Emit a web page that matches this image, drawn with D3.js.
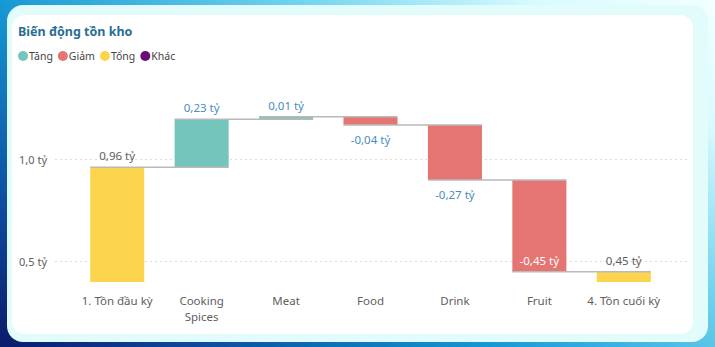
<!DOCTYPE html>
<html><head><meta charset="utf-8">
<script src="https://cdn.jsdelivr.net/npm/d3@7"></script>
<style>
html,body{margin:0;padding:0;width:715px;height:347px;overflow:hidden;}
body{background:linear-gradient(35deg,#0a1a6a 0%,#0e4fa0 18%,#1597d2 40%,#6fd3ee 65%,#d8fbff 85%,#f2ffff 100%);}
svg{display:block;}
text{font-family:"Noto Sans","Open Sans",sans-serif;}
</style></head><body>
<svg id="c" width="715" height="347"></svg>
<script>
const categories = ["1. Tồn đầu kỳ","Cooking Spices","Meat","Food","Drink","Fruit","4. Tồn cuối kỳ"];
const kinds      = ["total","delta","delta","delta","delta","delta","total"];
const values     = [0.963, 0.235, 0.012, -0.04, -0.27, -0.45, 0.45];
const labels     = ["0,96 tỷ","0,23 tỷ","0,01 tỷ","-0,04 tỷ","-0,27 tỷ","-0,45 tỷ","0,45 tỷ"];
const yTicks     = [0.5, 1.0];
const yTickLabels= ["0,5 tỷ","1,0 tỷ"];
const legendNames= ["Tăng","Giảm","Tổng","Khác"];
const legendColors=["#74c6bc","#e57572","#fdd44e","#6a0c78"];

const svg = d3.select("#c");
// panels
svg.append("rect").attr("x",7).attr("y",5).attr("width",701).attr("height",337).attr("rx",16).attr("fill","#e1fcfa");
svg.append("rect").attr("x",12).attr("y",15).attr("width",681).attr("height",319).attr("rx",13).attr("fill","#ffffff");

svg.append("text").attr("x",18).attr("y",36).text("Biến động tồn kho")
  .attr("font-size",12.5).attr("font-weight",700).attr("fill","#2a6e92");

// legend
const lg = svg.append("g");
let lx = 23;
legendNames.forEach((n,i)=>{
  lg.append("circle").attr("cx",lx).attr("cy",56).attr("r",5).attr("fill",legendColors[i]);
  const t = lg.append("text").attr("x",lx+6).attr("y",60).text(n).attr("font-size",10.5).attr("fill","#444");
  lx += 6 + t.node().getComputedTextLength() + 10;
});

// compute waterfall
let run = 0;
const bars = values.map((v,i)=>{
  let a,b;
  if(kinds[i]==="total"){ a=0; b=v; run=v; }
  else { a=run; b=run+v; run=b; }
  return {cat:categories[i],kind:kinds[i],v,start:a,end:b,label:labels[i]};
});

const x = d3.scaleBand().domain(categories).range([75,666]).paddingInner(0.36).paddingOuter(0.18);
const y = d3.scaleLinear().domain([0.4,1.4]).range([282,78]);

// grid
const grid = svg.append("g");
yTicks.forEach((t,i)=>{
  grid.append("line").attr("x1",55).attr("x2",688).attr("y1",y(t)).attr("y2",y(t))
    .attr("stroke","#d9d9d9").attr("stroke-dasharray","2,3").attr("stroke-width",1);
  grid.append("text").attr("x",47).attr("y",y(t)+4).attr("text-anchor","end").text(yTickLabels[i])
    .attr("font-size",11).attr("fill","#605e5c");
});

function color(d){ return d.kind==="total" ? legendColors[2] : (d.v>=0 ? legendColors[0] : legendColors[1]); }
const lo = d => d.kind==="total" ? y.domain()[0] : Math.min(d.start,d.end);
const hi = d => Math.max(d.start,d.end);

svg.append("g").selectAll("rect").data(bars).join("rect")
  .attr("x",d=>x(d.cat)).attr("width",x.bandwidth())
  .attr("y",d=>y(hi(d))).attr("height",d=>Math.max(2,y(lo(d))-y(hi(d))))
  .attr("fill",color);

// connectors
const con = svg.append("g");
bars.forEach((d,i)=>{
  if(i<bars.length-1){
    con.append("line").attr("x1",x(d.cat)).attr("x2",x(bars[i+1].cat)+x.bandwidth())
      .attr("y1",y(d.end)).attr("y2",y(d.end)).attr("stroke","#b9b9b9").attr("stroke-width",1.5);
  }
});

// labels
svg.append("g").selectAll("text").data(bars).join("text")
  .attr("x",d=>x(d.cat)+x.bandwidth()/2)
  .attr("y",d=>{
    if(d.kind==="total" || d.v>=0) return y(hi(d))-7;
    const below = y(lo(d))+19;
    return below>286 ? y(lo(d))-7 : below;
  })
  .attr("text-anchor","middle").attr("font-size",11.5)
  .attr("fill",d=>{
    if(d.kind==="total") return "#605e5c";
    if(d.v<0 && y(lo(d))+19>286) return "#ffffff";
    return "#4a8cc0";
  })
  .text(d=>d.label);

// x axis labels
const xl = svg.append("g");
categories.forEach(c=>{
  const t = xl.append("text").attr("x",x(c)+x.bandwidth()/2).attr("y",305).attr("text-anchor","middle")
    .attr("font-size",11.5).attr("fill","#605e5c");
  const parts = c==="Cooking Spices" ? ["Cooking","Spices"] : [c];
  parts.forEach((p,j)=>t.append("tspan").attr("x",x(c)+x.bandwidth()/2).attr("dy",j?16:0).text(p));
});
</script></body></html>
